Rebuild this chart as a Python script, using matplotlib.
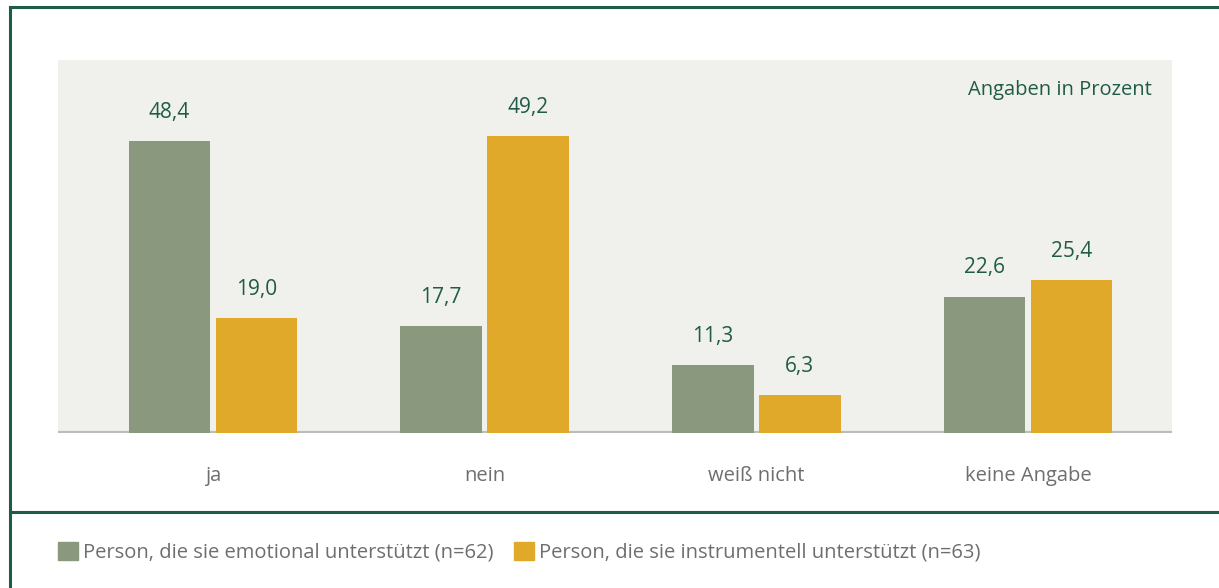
import matplotlib.pyplot as plt
import numpy as np
from matplotlib.lines import Line2D
from matplotlib.patches import Patch

categories = ["ja", "nein", "weiß nicht", "keine Angabe"]
emotional = [48.4, 17.7, 11.3, 22.6]
instrumentell = [19.0, 49.2, 6.3, 25.4]
series_labels = ["Person, die sie emotional unterstützt (n=62)",
                 "Person, die sie instrumentell unterstützt (n=63)"]

green = "#8a997d"
yellow = "#e1a929"
dark = "#1f5c47"
grey_text = "#6e6e6e"

W, H = 1219, 588
fig = plt.figure(figsize=(W / 100, H / 100), dpi=100)

# axes placed in pixel coordinates
x0, x1, y0, y1 = 58, 1172, 60, 433
ax = fig.add_axes([x0 / W, 1 - y1 / H, (x1 - x0) / W, (y1 - y0) / H])
ax.set_facecolor("#f0f0ec")

x = np.arange(len(categories))
w = 0.30
b1 = ax.bar(x - 0.16, emotional, w, color=green, zorder=3)
b2 = ax.bar(x + 0.16, instrumentell, w, color=yellow, zorder=3)

for bars, vals in [(b1, emotional), (b2, instrumentell)]:
    for r, v in zip(bars, vals):
        ax.text(r.get_x() + r.get_width() / 2, v + 3.0, f"{v:.1f}".replace(".", ","),
                ha="center", va="bottom", fontsize=15, color=dark, family="Open Sans")

ax.set_xlim(-0.57, 3.53)
ax.set_ylim(0, 61.8)
ax.axhline(0, color="#bcbcbc", lw=3, zorder=2)
for s in ax.spines.values():
    s.set_visible(False)
ax.set_yticks([])
ax.set_xticks(x)
ax.set_xticklabels(categories, fontsize=14.5, color=grey_text, family="Open Sans")
ax.tick_params(axis="x", length=0, pad=24)

ax.text(0.982, 0.92, "Angaben in Prozent", transform=ax.transAxes, ha="right",
        va="center", fontsize=14.5, color=dark, family="Open Sans")

# frame lines
lc = dict(color=dark, lw=2.2, transform=fig.transFigure)
fig.add_artist(Line2D([10 / W, 1], [1 - 7 / H, 1 - 7 / H], **lc))
fig.add_artist(Line2D([10 / W, 10 / W], [0, 1 - 7 / H], **lc))
fig.add_artist(Line2D([10 / W, 1], [1 - 512 / H, 1 - 512 / H], **lc))

handles = [Patch(color=green), Patch(color=yellow)]
fig.legend(handles, series_labels, loc="center left", bbox_to_anchor=(40 / W, 1 - 552 / H),
           ncol=2, frameon=False, handlelength=1.0, handleheight=1.0, handletextpad=0.25,
           columnspacing=1.0, prop={"family": "Open Sans", "size": 14.5}, labelcolor=grey_text)

fig.savefig("out.png", dpi=100)
